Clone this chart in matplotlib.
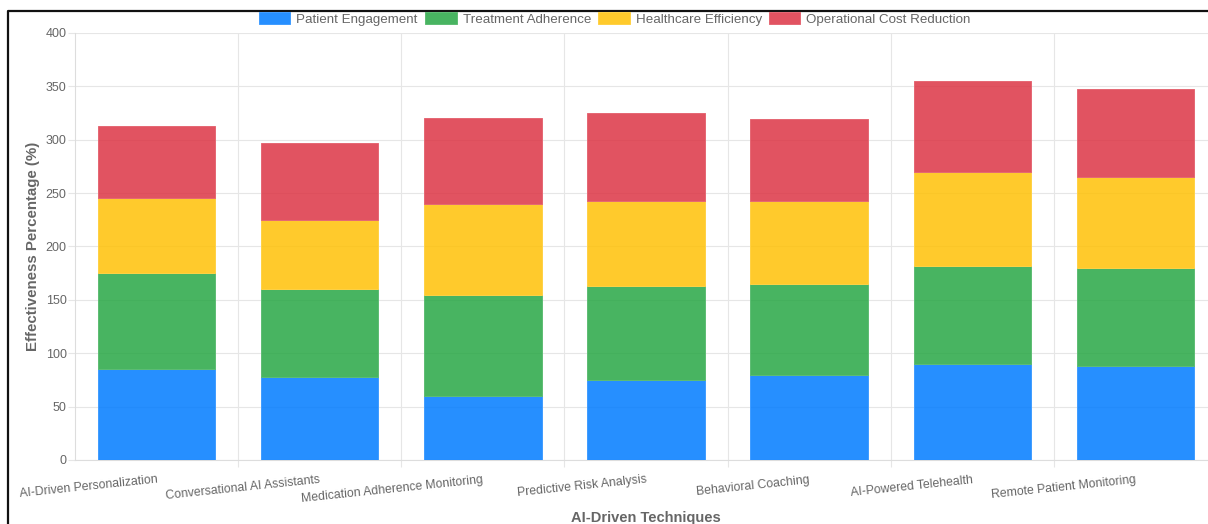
import matplotlib
matplotlib.use("Agg")
import matplotlib.pyplot as plt
from matplotlib.patches import Patch
from matplotlib.lines import Line2D
import numpy as np

plt.rcParams['font.family'] = ['Liberation Sans', 'DejaVu Sans']

categories = ["AI-Driven Personalization", "Conversational AI Assistants",
              "Medication Adherence Monitoring", "Predictive Risk Analysis",
              "Behavioral Coaching", "AI-Powered Telehealth", "Remote Patient Monitoring"]
series_names = ["Patient Engagement", "Treatment Adherence",
                "Healthcare Efficiency", "Operational Cost Reduction"]
patient_engagement = [85, 78, 60, 75, 80, 90, 88]
treatment_adherence = [90, 82, 95, 88, 85, 92, 92]
healthcare_efficiency = [70, 65, 85, 80, 78, 88, 85]
operational_cost_reduction = [68, 72, 80, 82, 76, 85, 83]
y_ticks = [0, 50, 100, 150, 200, 250, 300, 350, 400]

series_values = [patient_engagement, treatment_adherence,
                 healthcare_efficiency, operational_cost_reduction]
base_colors = [(0/255, 123/255, 255/255), (40/255, 167/255, 69/255),
               (255/255, 193/255, 7/255), (220/255, 53/255, 69/255)]

def lighten(c, f):
    return tuple(v + (1 - v) * f for v in c)

W, H = 1208, 524
fig = plt.figure(figsize=(W/100, H/100), dpi=100)

def px(x0, y0, x1, y1):
    return [x0/W, 1 - y1/H, (x1 - x0)/W, (y1 - y0)/H]

ax = fig.add_axes(px(75, 33, 1217, 460))
x = np.arange(len(categories))
bottom = np.zeros(len(categories))
for name, vals, c in zip(series_names, series_values, base_colors):
    ax.bar(x, vals, width=0.72, bottom=bottom, color=(*c, 0.85),
           edgecolor=lighten(c, 0.25), linewidth=0.7, label=name, zorder=3)
    bottom += np.array(vals)

grid_c = '#e6e6e6'
ax.set_xlim(-0.5, len(categories) - 0.5)
ax.set_ylim(0, 400)
ax.set_yticks(y_ticks)
ax.set_yticklabels([str(v) for v in y_ticks])
ax.set_xticks(x)
ax.set_xticklabels(categories, rotation=6, ha='right', rotation_mode='anchor')
ax.set_xticks(np.arange(0.5, len(categories) - 0.5, 1.0), minor=True)

ax.tick_params(axis='y', length=5, width=0.8, color=grid_c, labelcolor='#666666',
               labelsize=9, pad=1)
ax.tick_params(axis='x', which='major', length=0, labelcolor='#666666',
               labelsize=8.8, pad=10)
ax.tick_params(axis='x', which='minor', length=5, width=0.8, color=grid_c)

ax.grid(axis='y', color=grid_c, linewidth=0.8, zorder=0)
ax.grid(axis='x', which='minor', color=grid_c, linewidth=0.8, zorder=0)
for s in ['top', 'right']:
    ax.spines[s].set_visible(False)
for s in ['left', 'bottom']:
    ax.spines[s].set_color('#dddddd')
    ax.spines[s].set_linewidth(0.8)

ax.set_ylabel("Effectiveness Percentage (%)", fontsize=10.8, fontweight='bold',
              color='#666666', labelpad=4)
fig.text(646/W, 1 - 518/H, "AI-Driven Techniques", fontsize=10.5, fontweight='bold',
         color='#666666', ha='center', va='center')

handles = [Patch(facecolor=(*c, 0.85), edgecolor=lighten(c, 0.25), linewidth=0.7)
           for c in base_colors]
fig.legend(handles, series_names, loc='center', bbox_to_anchor=(615/W, 1 - 19/H),
           ncol=4, frameon=False, fontsize=9.6, handlelength=2.35, handleheight=1.05,
           handletextpad=0.45, columnspacing=0.55, labelcolor='#666666',
           borderpad=0.2)

# screenshot frame
fig.add_artist(Line2D([8/W, 8/W, 1.0], [0, 1 - 11/H, 1 - 11/H],
                      transform=fig.transFigure, color='#111111', linewidth=1.6))

fig.savefig("out.png", dpi=100)
